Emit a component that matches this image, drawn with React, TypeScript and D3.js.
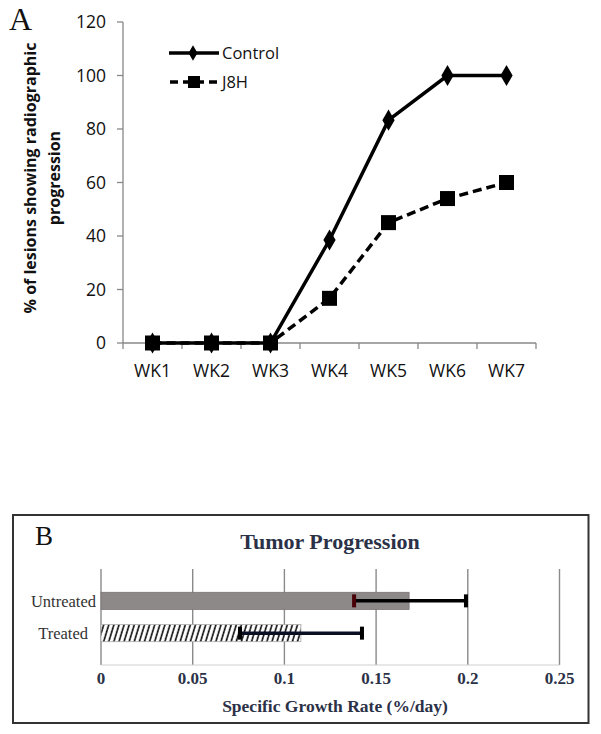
import React from "react";
import * as d3 from "d3";

const weeks = ["WK1", "WK2", "WK3", "WK4", "WK5", "WK6", "WK7"];
const controlValues = [0, 0, 0, 38.5, 83.3, 100, 100];
const j8hValues = [0, 0, 0, 16.7, 45, 54, 60];
const yTicksA = [0, 20, 40, 60, 80, 100, 120];

const groupsB = ["Untreated", "Treated"];
const meansB = [0.168, 0.109];
const errLowB = [0.138, 0.0758];
const errHighB = [0.199, 0.1423];
const xTicksB = [0, 0.05, 0.1, 0.15, 0.2, 0.25];

export default function App() {
  // Panel A scales
  const xA = d3.scaleBand<string>().domain(weeks).range([123, 536]).padding(0);
  const yA = d3.scaleLinear().domain([0, 120]).range([343, 22]);
  const cx = (w: string) => (xA(w) as number) + xA.bandwidth() / 2;
  const line = d3
    .line<number>()
    .x((_, i) => cx(weeks[i]))
    .y((d) => yA(d));

  // Panel B scales
  const xB = d3.scaleLinear().domain([0, 0.25]).range([101, 559.5]);
  const yB = d3.scaleBand<string>().domain(groupsB).range([592.3, 641.7]).paddingInner(0.47).paddingOuter(0);

  const sansA = "'Open Sans', Lato, sans-serif";
  const serif = "'Liberation Serif', 'DejaVu Serif', serif";
  const diamond = d3.symbol().type(d3.symbolDiamond);
  const boundaries = d3.range(weeks.length + 1).map((i) => 123 + i * xA.bandwidth());

  return (
    <svg width={601} height={734} style={{ position: "absolute", left: 0, top: 0, background: "#fff" }}>
      <defs>
        <pattern id="hatch" patternUnits="userSpaceOnUse" width={5.1} height={17} patternTransform="translate(0,592) skewX(-17)">
          <rect width={5.1} height={17} fill="#fff" />
          <line x1={1.5} y1={0} x2={1.5} y2={17} stroke="#111" strokeWidth={1.7} />
        </pattern>
      </defs>

      {/* Panel A */}
      <text x={9} y={30} fontFamily={serif} fontSize={32} fill="#111">A</text>
      {/* y axis */}
      <line x1={123} x2={123} y1={yA(120)} y2={yA(0)} stroke="#888" strokeWidth={1.3} />
      {yTicksA.map((t) => (
        <g key={t}>
          <line x1={117} x2={123} y1={yA(t)} y2={yA(t)} stroke="#888" strokeWidth={1.3} />
          <text x={106} y={yA(t)} dy="0.36em" textAnchor="end" fontFamily={sansA} fontSize={17.5} fill="#111">{t}</text>
        </g>
      ))}
      {/* x axis */}
      <line x1={123} x2={536} y1={yA(0)} y2={yA(0)} stroke="#888" strokeWidth={1.3} />
      {boundaries.map((b, i) => (
        <line key={i} x1={b} x2={b} y1={yA(0)} y2={yA(0) + 6} stroke="#888" strokeWidth={1.3} />
      ))}
      {weeks.map((w) => (
        <text key={w} x={cx(w)} y={377} textAnchor="middle" fontFamily={sansA} fontSize={17.5} fill="#111">{w}</text>
      ))}
      {/* y label */}
      <g transform="translate(36,178) rotate(-90)">
        <text x={0} y={0} textAnchor="middle" fontFamily={sansA} fontWeight="bold" fontSize={16} fill="#111">% of lesions showing radiographic</text>
        <text x={0} y={24} textAnchor="middle" fontFamily={sansA} fontWeight="bold" fontSize={16} fill="#111">progression</text>
      </g>
      {/* series */}
      <path d={line(j8hValues) || ""} fill="none" stroke="#000" strokeWidth={3.5} strokeDasharray="9,5" />
      <path d={line(controlValues) || ""} fill="none" stroke="#000" strokeWidth={3.5} />
      {j8hValues.map((v, i) => (
        <rect key={"s" + i} x={cx(weeks[i]) - 7.5} y={yA(v) - 7.5} width={15} height={15} fill="#000" />
      ))}
      {controlValues.map((v, i) => (
        <path key={"d" + i} d={diamond.size(130)() || ""} transform={`translate(${cx(weeks[i])},${yA(v)})`} fill="#000" />
      ))}
      {/* legend */}
      <line x1={169} x2={219} y1={53} y2={53} stroke="#000" strokeWidth={3.5} />
      <path d={diamond.size(70)() || ""} transform="translate(193,53)" fill="#000" />
      <text x={222} y={53} dy="0.36em" fontFamily={sansA} fontSize={16.5} fill="#111">Control</text>
      <line x1={169} x2={219} y1={82} y2={82} stroke="#000" strokeWidth={3.5} strokeDasharray="8,5" strokeDashoffset={-1} />
      <rect x={188} y={76} width={12} height={12} fill="#000" />
      <text x={222} y={82} dy="0.36em" fontFamily={sansA} fontSize={16.5} fill="#111">J8H</text>

      {/* Panel B */}
      <rect x={13} y={515} width={575.5} height={208} fill="#fff" stroke="#333" strokeWidth={2} />
      <text x={35} y={545} fontFamily={serif} fontSize={27} fill="#111">B</text>
      <text x={330} y={549} textAnchor="middle" fontFamily={serif} fontWeight="bold" fontSize={22} fill="#2b3147">Tumor Progression</text>
      {xTicksB.map((t) => (
        <g key={t}>
          <line x1={xB(t)} x2={xB(t)} y1={569} y2={665} stroke="#8a8a8a" strokeWidth={1.4} />
          <text x={xB(t)} y={684} textAnchor="middle" fontFamily={serif} fontWeight="bold" fontSize={17} fill="#2b3147">{t}</text>
        </g>
      ))}
      <line x1={xB(0)} x2={xB(0.25)} y1={665} y2={665} stroke="#cfcfcf" strokeWidth={1.2} />
      <text x={335} y={712} textAnchor="middle" fontFamily={serif} fontWeight="bold" fontSize={17.5} fill="#2b3147">Specific Growth Rate (%/day)</text>
      {groupsB.map((g, i) => {
        const y0 = yB(g) as number;
        const h = yB.bandwidth();
        const yc = y0 + h / 2;
        return (
          <g key={g}>
            <rect
              x={xB(0)}
              y={y0}
              width={xB(meansB[i]) - xB(0)}
              height={h}
              fill={i === 0 ? "#8e8989" : "url(#hatch)"}
              stroke={i === 0 ? "#7a7474" : "#aaa"}
              strokeWidth={0.8}
            />
            <text x={i === 0 ? 96 : 88} y={yc} dy="0.35em" textAnchor="end" fontFamily={serif} fontSize={16.5} fill="#333">{g}</text>
            <line x1={xB(errLowB[i])} x2={xB(errHighB[i])} y1={yc} y2={yc} stroke={i === 0 ? "#000" : "#0a0f24"} strokeWidth={3.5} />
            <rect x={xB(errLowB[i]) - 2} y={yc - 6.5} width={4} height={13} fill={i === 0 ? "#4a0008" : "#000"} />
            <rect x={xB(errHighB[i]) - 2} y={yc - 6.5} width={4} height={13} fill="#000" />
          </g>
        );
      })}
    </svg>
  );
}
